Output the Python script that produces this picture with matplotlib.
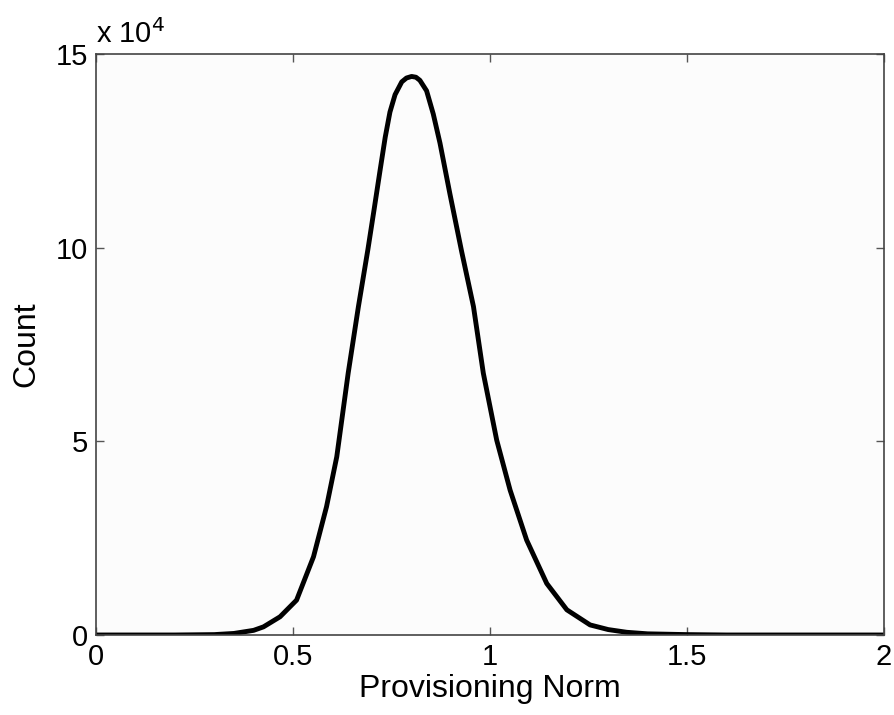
import matplotlib
matplotlib.use("Agg")
import matplotlib.pyplot as plt

# values (count in units of 1e4)
norm = [0.0, 0.1, 0.2, 0.3, 0.35, 0.40, 0.425, 0.467, 0.509, 0.552, 0.585,
        0.611, 0.640, 0.666, 0.690, 0.706, 0.721, 0.734, 0.746, 0.759, 0.776,
        0.788, 0.801, 0.812, 0.822, 0.839, 0.856, 0.873, 0.898, 0.928, 0.958,
        0.983, 1.017, 1.051, 1.093, 1.144, 1.195, 1.254, 1.30, 1.347, 1.40,
        1.5, 1.6, 1.7, 1.8, 1.9, 2.0]
count = [0.0, 0.0, 0.0, 0.01, 0.04, 0.12, 0.21, 0.47, 0.90, 2.02, 3.31,
         4.60, 6.76, 8.48, 9.95, 11.0, 12.0, 12.85, 13.5, 13.95, 14.28,
         14.38, 14.42, 14.40, 14.32, 14.05, 13.45, 12.7, 11.4, 9.9, 8.48,
         6.76, 5.03, 3.74, 2.45, 1.33, 0.65, 0.26, 0.14, 0.07, 0.03,
         0.01, 0.0, 0.0, 0.0, 0.0, 0.0]

xticks = [0, 0.5, 1, 1.5, 2]
xlabels = ["0", "0.5", "1", "1.5", "2"]
yticks = [0, 5, 10, 15]

plt.rcParams['font.family'] = ['Liberation Sans', 'DejaVu Sans']

fig = plt.figure(figsize=(8.95, 7.15), dpi=100)
ax = fig.add_axes([0.1073, 0.1119, 0.8804, 0.8126])
ax.set_facecolor('#fcfcfc')

ax.plot(norm, count, color='black', linewidth=3.5,
        solid_joinstyle='round', solid_capstyle='round')

ax.set_xlim(0, 2)
ax.set_ylim(0, 15)
ax.set_xticks(xticks)
ax.set_xticklabels(xlabels)
ax.set_yticks(yticks)
ax.tick_params(direction='in', length=6, width=1, color='#555555',
               labelsize=21, top=True, right=True, pad=6)
for s in ax.spines.values():
    s.set_color('#444444')
    s.set_linewidth(1.2)

ax.set_xlabel('Provisioning Norm', fontsize=23, labelpad=2)
ax.set_ylabel('Count', fontsize=23, labelpad=10)
ax.text(0.0, 1.008, r'x 10$^{4}$', transform=ax.transAxes, fontsize=21,
        ha='left', va='bottom')

fig.savefig('out.png', dpi=100)
